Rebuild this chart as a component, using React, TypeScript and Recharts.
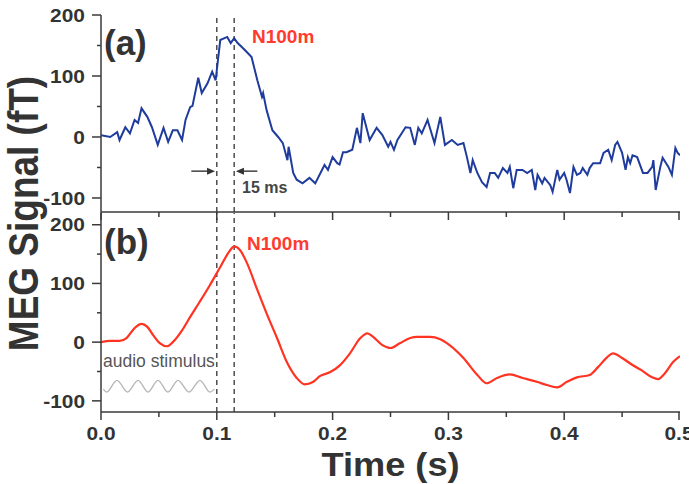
import React from 'react';
import { LineChart, Line, XAxis, YAxis, ReferenceLine } from 'recharts';

// (a) single-trial MEG response
const rawTime = [
  0.0, 0.008, 0.014, 0.016, 0.021, 0.025, 0.029, 0.032, 0.035, 0.04, 0.044, 0.049, 0.054, 0.058,
  0.062, 0.066, 0.07, 0.073, 0.077, 0.079, 0.084, 0.087, 0.092, 0.096, 0.099, 0.103, 0.109, 0.112,
  0.115, 0.118, 0.124, 0.13, 0.135, 0.139, 0.14, 0.143, 0.148, 0.153, 0.157, 0.161, 0.162, 0.166,
  0.169, 0.174, 0.18, 0.185, 0.193, 0.196, 0.2, 0.204, 0.206, 0.209, 0.212, 0.217, 0.221, 0.224,
  0.226, 0.232, 0.238, 0.243, 0.248, 0.25, 0.253, 0.256, 0.263, 0.267, 0.271, 0.274, 0.277, 0.282,
  0.284, 0.288, 0.293, 0.297, 0.303, 0.308, 0.313, 0.316, 0.319, 0.321, 0.325, 0.329, 0.333, 0.336,
  0.34, 0.343, 0.347, 0.351, 0.353, 0.356, 0.359, 0.364, 0.368, 0.372, 0.375, 0.377, 0.381, 0.383,
  0.388, 0.39, 0.394, 0.396, 0.4, 0.402, 0.405, 0.408, 0.411, 0.414, 0.416, 0.42, 0.422, 0.425,
  0.428, 0.431, 0.434, 0.438, 0.441, 0.444, 0.446, 0.45, 0.453, 0.455, 0.457, 0.459, 0.463, 0.468,
  0.472, 0.476, 0.477, 0.479, 0.483, 0.485, 0.49, 0.493, 0.496, 0.498, 0.5,
];
const rawSignal = [
  3, 0, 8, -5, 16, 6, 28, 23, 47, 33, 16, -13, 15, -8,
  11, 11, -5, 28, 49, 51, 97, 72, 88, 107, 93, 159, 164, 154,
  162, 154, 143, 131, 93, 66, 72, 44, 11, 0, -10, -38, -16, -59,
  -70, -76, -67, -76, -46, -54, -33, -43, -45, -25, -25, -21, 15, -10,
  39, -5, 15, 3, -16, -8, -21, -5, 16, 15, -13, 15, 6, 28,
  15, -10, 33, -13, -5, -13, -10, -33, -59, -38, -59, -74, -82, -59,
  -59, -67, -51, -59, -49, -84, -54, -54, -59, -54, -87, -62, -76, -67,
  -79, -90, -54, -70, -59, -70, -92, -49, -62, -59, -51, -62, -51, -43,
  -43, -43, -26, -21, -38, -13, -8, -26, -54, -33, -43, -30, -33, -59,
  -59, -49, -38, -87, -49, -34, -49, -62, -18, -26, -30,
];

// (b) averaged MEG response
const avgTime = [
  0.0, 0.008, 0.016, 0.022, 0.029, 0.035, 0.04, 0.045, 0.051, 0.057, 0.062, 0.07, 0.077, 0.085,
  0.094, 0.103, 0.111, 0.115, 0.12, 0.126, 0.135, 0.143, 0.152, 0.161, 0.169, 0.176, 0.183, 0.189,
  0.198, 0.206, 0.215, 0.224, 0.23, 0.235, 0.243, 0.25, 0.258, 0.267, 0.273, 0.284, 0.293, 0.301,
  0.313, 0.325, 0.333, 0.342, 0.353, 0.364, 0.377, 0.385, 0.394, 0.402, 0.411, 0.422, 0.429, 0.437,
  0.442, 0.45, 0.459, 0.467, 0.476, 0.481, 0.487, 0.494, 0.5,
];
const avgSignal = [
  0, 2, 2, 7, 24, 31, 26, 12, -2, -7, 0, 20, 43, 68,
  97, 128, 155, 163, 157, 135, 89, 49, 7, -36, -61, -72, -68, -58,
  -51, -40, -19, 7, 15, 9, -5, -10, -2, 7, 9, 9, 5, -5,
  -27, -56, -70, -61, -55, -61, -68, -73, -77, -68, -60, -56, -43, -26,
  -19, -27, -39, -48, -60, -63, -53, -34, -24,
];

// audio stimulus sketch (crests and troughs)
const stimTime = [0.002, 0.0049, 0.0138, 0.0229, 0.032, 0.0406, 0.0492, 0.0578, 0.0665, 0.076, 0.0855, 0.094, 0.098];
const stimLevel = [-80, -85, -65, -85, -65, -85, -65, -85, -65, -85, -65, -85, -80];

const timeTicks = [0, 0.05, 0.1, 0.15, 0.2, 0.25, 0.3, 0.35, 0.4, 0.45, 0.5];
const timeLabels = ['0.0', '', '0.1', '', '0.2', '', '0.3', '', '0.4', '', '0.5'];
const signalTicks = [-100, -50, 0, 50, 100, 150, 200];
const signalLabels = ['-100', '', '0', '', '100', '', '200'];
const markerTimes = [0.1, 0.115];

const rawSeries = rawTime.map((t, i) => ({ t, v: rawSignal[i] }));
const avgSeries = avgTime.map((t, i) => ({ t, v: avgSignal[i] }));
const stimSeries = stimTime.map((t, i) => ({ t, v: stimLevel[i] }));

const W = 689;
const H = 484;
const LEFT = 101;
const RIGHT = 680;
const TOP_A = 15;
const TOP_B = 213;
const BOTTOM_B = 412;
const DOMAIN_A: [number, number] = [-123, 200];
const DOMAIN_B: [number, number] = [-119, 220];

const AXIS = '#3a3a3a';
const FONT = '"Liberation Sans", Arial, Helvetica, sans-serif';
const BLUE = '#1f3c9c';
const RED = '#ff3322';

const tx = (t: number) => LEFT + (t / 0.5) * (RIGHT - LEFT);
const yA = (v: number) => TOP_A + ((DOMAIN_A[1] - v) / (DOMAIN_A[1] - DOMAIN_A[0])) * (TOP_B - 1 - TOP_A);

function SignalTick(props: any) {
  const { x, y, payload } = props;
  const idx = signalTicks.indexOf(payload.value);
  const label = idx >= 0 ? signalLabels[idx] : '';
  const len = label ? 9 : 4;
  return (
    <g>
      <line x1={x - len} x2={x} y1={y} y2={y} stroke={AXIS} strokeWidth={1.5} />
      {label && (
        <text
          transform={`translate(${x - 16},${y}) scale(1.1,1)`}
          textAnchor="end"
          dominantBaseline="central"
          fontFamily={FONT}
          fontWeight="bold"
          fontSize={19}
          fill="#333"
        >
          {label}
        </text>
      )}
    </g>
  );
}

function TimeTick(props: any) {
  const { x, y, payload, showLabel } = props;
  const idx = timeTicks.findIndex((v) => Math.abs(v - payload.value) < 1e-9);
  const label = idx >= 0 ? timeLabels[idx] : '';
  const len = label ? 8 : 5;
  return (
    <g>
      <line x1={x} x2={x} y1={y} y2={y + len} stroke={AXIS} strokeWidth={1.5} />
      {showLabel && label && (
        <text
          transform={`translate(${x},${y + 28}) scale(1.1,1)`}
          textAnchor="middle"
          fontFamily={FONT}
          fontWeight="bold"
          fontSize={19}
          fill="#333"
        >
          {label}
        </text>
      )}
    </g>
  );
}

function Arrow({ x1, x2, y }: { x1: number; x2: number; y: number }) {
  const dir = x2 > x1 ? 1 : -1;
  return (
    <g stroke="#333" fill="#333">
      <line x1={x1} x2={x2 - dir * 5} y1={y} y2={y} strokeWidth={1.4} />
      <path d={`M${x2},${y} L${x2 - dir * 8},${y - 3.5} L${x2 - dir * 8},${y + 3.5} Z`} stroke="none" />
    </g>
  );
}

export default function App() {
  const axisLine = { stroke: AXIS, strokeWidth: 1.5 };
  return (
    <div style={{ position: 'absolute', left: 0, top: 0, width: W, height: H, background: '#fff' }}>
      {/* panel (a) */}
      <div style={{ position: 'absolute', left: 0, top: 0 }}>
        <LineChart width={W} height={230} margin={{ top: TOP_A, right: W - RIGHT, left: 0, bottom: 0 }}>
          <XAxis
            dataKey="t"
            type="number"
            domain={[0, 0.5]}
            ticks={timeTicks}
            allowDataOverflow
            height={230 - (TOP_B - 1)}
            axisLine={axisLine}
            tickLine={false}
            tickSize={0}
            tickMargin={0}
            tick={(p: any) => <TimeTick {...p} showLabel={false} />}
          />
          <XAxis xAxisId="frame" orientation="top" type="number" domain={[0, 0.5]} height={0} axisLine={axisLine} tick={false} tickLine={false} />
          <YAxis
            type="number"
            domain={DOMAIN_A}
            ticks={signalTicks}
            allowDataOverflow
            width={LEFT}
            axisLine={axisLine}
            tickLine={false}
            tickSize={0}
            tickMargin={0}
            tick={(p: any) => <SignalTick {...p} />}
          />
          <YAxis yAxisId="frame" orientation="right" type="number" domain={DOMAIN_A} width={0} axisLine={axisLine} tick={false} tickLine={false} />
          {markerTimes.map((m) => (
            <ReferenceLine key={m} x={m} stroke="#333" strokeWidth={1.3} strokeDasharray="5 4" />
          ))}
          <Line data={rawSeries} dataKey="v" type="linear" stroke={BLUE} strokeWidth={2} dot={false} isAnimationActive={false} />
        </LineChart>
      </div>

      {/* panel (b) */}
      <div style={{ position: 'absolute', left: 0, top: 0 }}>
        <LineChart width={W} height={H} margin={{ top: TOP_B, right: W - RIGHT, left: 0, bottom: 0 }}>
          <XAxis
            dataKey="t"
            type="number"
            domain={[0, 0.5]}
            ticks={timeTicks}
            allowDataOverflow
            height={H - BOTTOM_B}
            axisLine={axisLine}
            tickLine={false}
            tickSize={0}
            tickMargin={0}
            tick={(p: any) => <TimeTick {...p} showLabel />}
          />
          <XAxis xAxisId="frame" orientation="top" type="number" domain={[0, 0.5]} height={0} axisLine={axisLine} tick={false} tickLine={false} />
          <YAxis
            type="number"
            domain={DOMAIN_B}
            ticks={signalTicks}
            allowDataOverflow
            width={LEFT}
            axisLine={axisLine}
            tickLine={false}
            tickSize={0}
            tickMargin={0}
            tick={(p: any) => <SignalTick {...p} />}
          />
          <YAxis yAxisId="frame" orientation="right" type="number" domain={DOMAIN_B} width={0} axisLine={axisLine} tick={false} tickLine={false} />
          {markerTimes.map((m) => (
            <ReferenceLine key={m} x={m} stroke="#333" strokeWidth={1.3} strokeDasharray="5 4" />
          ))}
          <Line data={stimSeries} dataKey="v" type="monotone" stroke="#b5b5b5" strokeWidth={1.3} dot={false} isAnimationActive={false} />
          <Line data={avgSeries} dataKey="v" type="monotone" stroke={RED} strokeWidth={2.2} dot={false} isAnimationActive={false} />
        </LineChart>
      </div>

      {/* annotations and axis titles */}
      <svg width={W} height={H} style={{ position: 'absolute', left: 0, top: 0, pointerEvents: 'none' }}>
        <g fontFamily={FONT}>
          <text x={104} y={55} fontSize={35} fontWeight="bold" fill="#333">(a)</text>
          <text x={104} y={254} fontSize={35} fontWeight="bold" fill="#333">(b)</text>
          <text x={252} y={43} fontSize={19} fontWeight="bold" fill="#ff3b30">N100m</text>
          <text x={247} y={250} fontSize={19} fontWeight="bold" fill="#ff3b30">N100m</text>
          <text x={242} y={193} fontSize={16} fontWeight="bold" fill="#444">15 ms</text>
          <Arrow x1={tx(0.078)} x2={tx(0.0985)} y={yA(-56)} />
          <Arrow x1={tx(0.135)} x2={tx(0.1165)} y={yA(-56)} />
          <text x={103} y={367} fontSize={17.5} fill="#555">audio stimulus</text>
          <text
            transform={`translate(${(LEFT + RIGHT) / 2},476) scale(1.065,1)`}
            textAnchor="middle"
            fontSize={34}
            fontWeight="bold"
            fill="#333"
          >
            Time (s)
          </text>
          <text
            transform={`translate(38,${(TOP_A + BOTTOM_B) / 2}) rotate(-90) scale(1,1.13)`}
            textAnchor="middle"
            fontSize={37}
            fontWeight="bold"
            fill="#333"
          >
            MEG Signal (fT)
          </text>
        </g>
      </svg>
    </div>
  );
}
